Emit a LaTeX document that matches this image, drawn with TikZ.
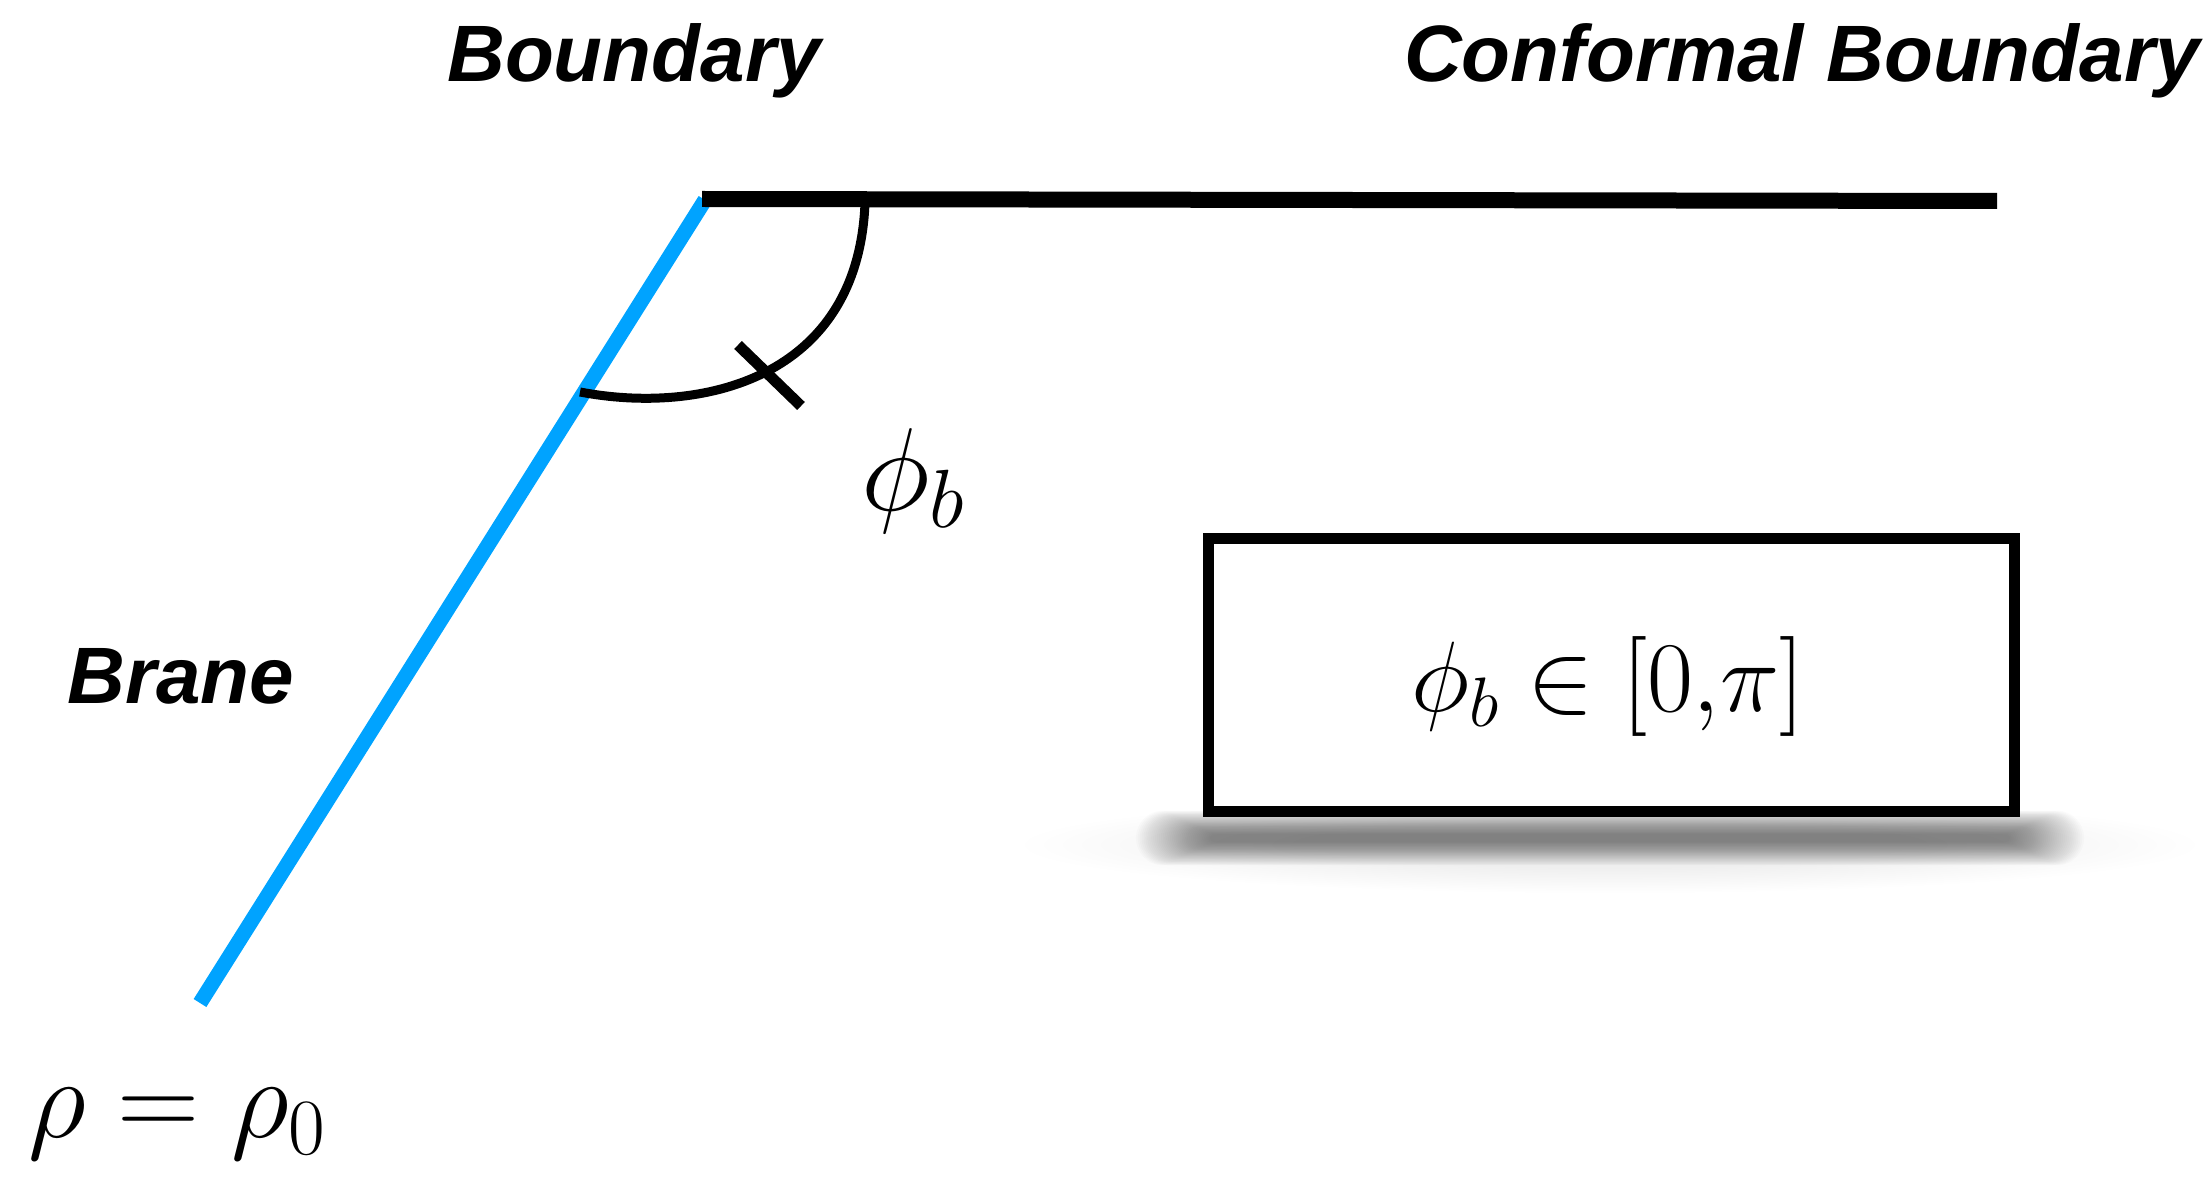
\RequirePackage{fix-cm}
\documentclass[tikz,border=0pt]{standalone}
\usepackage{fontspec}
\setsansfont{Liberation Sans}
\definecolor{braneblue}{RGB}{0,163,255}
\begin{document}
\begin{tikzpicture}[x=0.5pt,y=-0.5pt,line cap=butt,
  boundaryline/.style={line width=8pt,black},
  braneline/.style={line width=7.5pt,braneblue},
  anglearc/.style={line width=4.5pt,black},
  tickmark/.style={line width=5.5pt,black},
  toplabel/.style={font=\sffamily\bfseries\itshape\fontsize{40}{48}\selectfont,inner sep=0pt,anchor=base},
  rangebox/.style={draw=black,line width=5.5pt,fill=white,minimum width=403pt,minimum height=136.5pt,inner sep=0pt},
  shadowlayer/.style={fill=black,opacity=0.016},
  halolayer/.style={fill=black,opacity=0.005}]
\useasboundingbox (0,0) rectangle (2203,1181);
% soft halo and shadow under the box
\foreach \i in {0,...,15}{
  \pgfmathsetmacro{\rx}{585-19*\i}
  \pgfmathsetmacro{\ry}{48-1.6*\i}
  \fill[halolayer] (1610,845) ellipse ({\rx} and {\ry});
}
\foreach \i in {0,...,39}{
  \pgfmathsetmacro{\hl}{400+1.9*\i}
  \pgfmathsetmacro{\hh}{4+0.6*\i}
  \pgfmathsetmacro{\rr}{\hh/2}
  \fill[shadowlayer,rounded corners=\rr pt] (1610-\hl,838-\hh) rectangle (1610+\hl,838+\hh);
}
% lines
\coordinate (bL) at (702,199);
\coordinate (bR) at (1997,201);
\coordinate (brTop) at (705,200);
\coordinate (brBot) at (200,1003);
\draw[braneline] (brTop) -- (brBot);
\draw[boundaryline] (bL) -- (bR);
% angle arc
\coordinate (arcS) at (580,392);
\coordinate (arcE) at (865,203);
\draw[anglearc] (arcS) .. controls (700,415) and (858,380) .. (arcE);
\coordinate (tk1) at (738,345);
\coordinate (tk2) at (801,406);
\draw[tickmark] (tk1) -- (tk2);
% labels
\node[toplabel] (lblBoundary) at (634,82) {Boundary};
\node[toplabel] (lblConf) at (1802,82) {Conformal Boundary};
\node[toplabel] (lblBrane) at (181,703) {Brane};
\node[inner sep=0pt,anchor=base west,font=\fontsize{59}{70}\selectfont] (phib) at (861,510) {$\phi_b$};
\node[inner sep=0pt,anchor=base west,font=\fontsize{57}{68}\selectfont] (rho) at (28,1137) {$\rho=\rho_0$};
% box
\node[rangebox] (rng) at (1611.5,675) {};
\node[inner sep=0pt,anchor=base,font=\fontsize{50}{60}\selectfont] (rngtext) at (1608,711) {$\phi_b\in[0{,}\pi]$};
\end{tikzpicture}
\end{document}
